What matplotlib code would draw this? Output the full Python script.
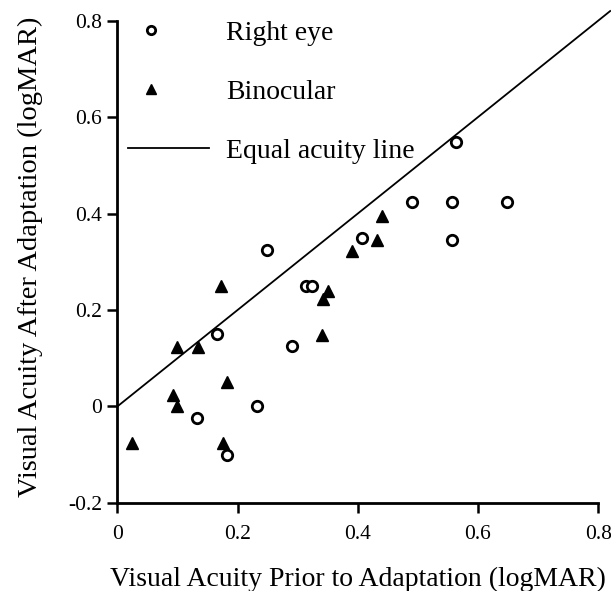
import matplotlib
matplotlib.use("Agg")
import matplotlib.pyplot as plt
from matplotlib.legend_handler import HandlerLine2D

plt.rcParams['font.family'] = ['Liberation Serif', 'DejaVu Serif']

# Right eye: prior vs after adaptation (logMAR)
right_prior = [0.249, 0.166, 0.291, 0.232, 0.133, 0.183, 0.314, 0.324,
               0.407, 0.49, 0.556, 0.648, 0.556, 0.564]
right_after = [0.324, 0.151, 0.125, 0.0, -0.024, -0.100, 0.25, 0.25,
               0.349, 0.423, 0.423, 0.423, 0.346, 0.548]

# Binocular
bino_prior = [0.025, 0.172, 0.10, 0.135, 0.092, 0.10, 0.182, 0.176,
              0.35, 0.342, 0.341, 0.44, 0.432, 0.39]
bino_after = [-0.075, 0.25, 0.123, 0.123, 0.024, 0.0, 0.05, -0.076,
              0.239, 0.223, 0.149, 0.396, 0.346, 0.322]

equal_line = [0, 0.82]


class LeftMarker(HandlerLine2D):
    # put the legend marker left of the handle centre, as in the original
    def create_artists(self, legend, orig_handle, xdescent, ydescent,
                       width, height, fontsize, trans):
        arts = super().create_artists(legend, orig_handle, xdescent, ydescent,
                                      width, height, fontsize, trans)
        for a in arts:
            a.set_xdata([x - width * 0.22 for x in a.get_xdata()])
        return arts


fig = plt.figure(figsize=(6.11, 5.91), dpi=100)
ax = fig.add_axes([0.192, 0.149, 0.787, 0.816])

ax.plot(equal_line, equal_line, color='black', lw=1.3, label='Equal acuity line',
        clip_on=False)
ax.plot(right_prior, right_after, 'o', ms=7.5, mfc='white', mec='black', mew=2,
        label='Right eye')
ax.plot(bino_prior, bino_after, '^', ms=9, color='black', label='Binocular')

ax.set_xlim(0, 0.8)
ax.set_ylim(-0.2, 0.8)
ax.set_xticks([0, 0.2, 0.4, 0.6, 0.8])
ax.set_xticklabels(['0', '0.2', '0.4', '0.6', '0.8'])
ax.set_yticks([-0.2, 0, 0.2, 0.4, 0.6, 0.8])
ax.set_yticklabels(['-0.2', '0', '0.2', '0.4', '0.6', '0.8'])
ax.tick_params(direction='out', length=7.2, width=1.8, labelsize=15.5)
ax.tick_params(axis='x', pad=9)
ax.tick_params(axis='y', pad=4)
for s in ['top', 'right']:
    ax.spines[s].set_visible(False)
for s in ['left', 'bottom']:
    ax.spines[s].set_linewidth(2)

ax.set_xlabel('Visual Acuity Prior to Adaptation (logMAR)', fontsize=20, labelpad=16)
ax.set_ylabel('Visual Acuity After Adaptation (logMAR)', fontsize=20.5)
ax.yaxis.set_label_coords(-0.155, 0.51)

h, l = ax.get_legend_handles_labels()
leg = ax.legend([h[1], h[2], h[0]], [l[1], l[2], l[0]], loc='upper left',
                bbox_to_anchor=(0.023, 1.0), frameon=False, fontsize=20,
                borderpad=0, borderaxespad=0,
                labelspacing=1.2, handlelength=2.9, handletextpad=0.62,
                markerscale=0.8,
                handler_map={h[1]: LeftMarker(), h[2]: LeftMarker()})

fig.savefig('out.png', dpi=100)
